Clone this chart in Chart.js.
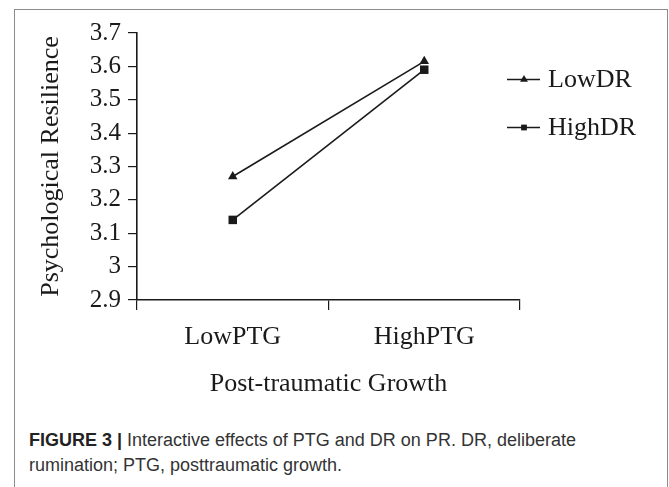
<!DOCTYPE html>
<html>
<head>
<meta charset="utf-8">
<script src="https://cdn.jsdelivr.net/npm/chart.js"></script>
<style>
  body { margin: 0; background: #fff; width: 669px; height: 487px; overflow: hidden; position: relative; }
  .frame { position: absolute; left: 14px; top: 9px; width: 652px; height: 500px; border: 1px solid #8c8c8c; border-bottom: none; }
  #chart { position: absolute; left: 0; top: 0; }
  .caption { position: absolute; left: 29px; top: 428px; width: 565px; font-family: "Liberation Sans", Arial, sans-serif; font-size: 18px; line-height: 25px; color: #333; }
  .caption b { color: #222; }
</style>
</head>
<body>
<div class="frame"></div>
<canvas id="chart" width="669" height="420"></canvas>
<div class="caption"><b>FIGURE 3 |</b> Interactive effects of PTG and DR on PR. DR, deliberate rumination; PTG, posttraumatic growth.</div>
<script>
const categories = ['LowPTG', 'HighPTG'];
const seriesNames = ['LowDR', 'HighDR'];
const lowDR = [3.27, 3.615];
const highDR = [3.14, 3.59];
const yMin = 2.9;
const yMax = 3.7;
const yStep = 0.1;

const ink = '#1a1a1a';
const serif = '"Liberation Serif", "Times New Roman", serif';

// draws the small triangle / square markers (also used by the legend)
function marker(ctx, style, x, y, r) {
  ctx.beginPath();
  if (style === 'triangle') {
    ctx.moveTo(x, y - r);
    ctx.lineTo(x + r * 0.87, y + r * 0.5);
    ctx.lineTo(x - r * 0.87, y + r * 0.5);
    ctx.closePath();
  } else {
    ctx.rect(x - r * 0.72, y - r * 0.72, r * 1.44, r * 1.44);
  }
  ctx.fill();
}

const sideLegend = {
  id: 'sideLegend',
  afterDraw(chart) {
    const ctx = chart.ctx;
    ctx.save();
    chart.data.datasets.forEach((ds, i) => {
      const y = 79.5 + i * 48;
      ctx.strokeStyle = ink;
      ctx.fillStyle = ink;
      ctx.lineWidth = 1.6;
      ctx.beginPath();
      ctx.moveTo(507, y);
      ctx.lineTo(540, y);
      ctx.stroke();
      marker(ctx, ds.pointStyle, 524, y, ds.pointStyle === 'triangle' ? 4.5 : 4);
      ctx.font = '26px ' + serif;
      ctx.textBaseline = 'middle';
      ctx.textAlign = 'left';
      ctx.fillText(ds.label, 548, y + 1);
    });
    ctx.restore();
  }
};

new Chart(document.getElementById('chart').getContext('2d'), {
  type: 'line',
  data: {
    labels: categories,
    datasets: [
      {
        label: seriesNames[0],
        data: lowDR,
        borderColor: ink,
        backgroundColor: ink,
        borderWidth: 1.6,
        pointStyle: 'triangle',
        pointRadius: 5.5,
        pointBorderWidth: 0,
        fill: false,
      },
      {
        label: seriesNames[1],
        data: highDR,
        borderColor: ink,
        backgroundColor: ink,
        borderWidth: 1.6,
        pointStyle: 'rect',
        pointRadius: 6,
        pointBorderWidth: 0,
        fill: false,
      },
    ],
  },
  options: {
    responsive: false,
    animation: false,
    devicePixelRatio: 1,
    layout: {
      padding: { left: 0, top: 33, right: 149, bottom: 0 }
    },
    scales: {
      x: {
        offset: true,
        afterFit(scale) { scale.height = 120; },
        grid: { offset: true, drawOnChartArea: false, drawTicks: true, tickLength: 10, color: ink, lineWidth: 1.2 },
        border: { display: true, color: ink, width: 1.6 },
        ticks: { color: ink, padding: 12, font: { family: serif, size: 26 } },
        title: {
          display: true,
          text: 'Post-traumatic Growth',
          color: ink,
          font: { family: serif, size: 26 },
          padding: { top: 0, bottom: 20 }
        }
      },
      y: {
        min: yMin,
        max: yMax,
        afterFit(scale) { scale.width = 137; },
        grid: { drawOnChartArea: false, drawTicks: true, tickLength: 9, color: ink, lineWidth: 1.2 },
        border: { display: true, color: ink, width: 1.6 },
        ticks: {
          stepSize: yStep,
          color: ink,
          padding: 7,
          font: { family: serif, size: 25 },
          callback: v => String(+v.toFixed(1))
        },
        title: {
          display: true,
          text: 'Psychological Resilience',
          color: ink,
          font: { family: serif, size: 26 },
          padding: { top: 36, bottom: 0 }
        }
      }
    },
    plugins: {
      legend: { display: false },
      tooltip: { enabled: false },
      title: { display: false }
    }
  },
  plugins: [sideLegend]
});
</script>
</body>
</html>
